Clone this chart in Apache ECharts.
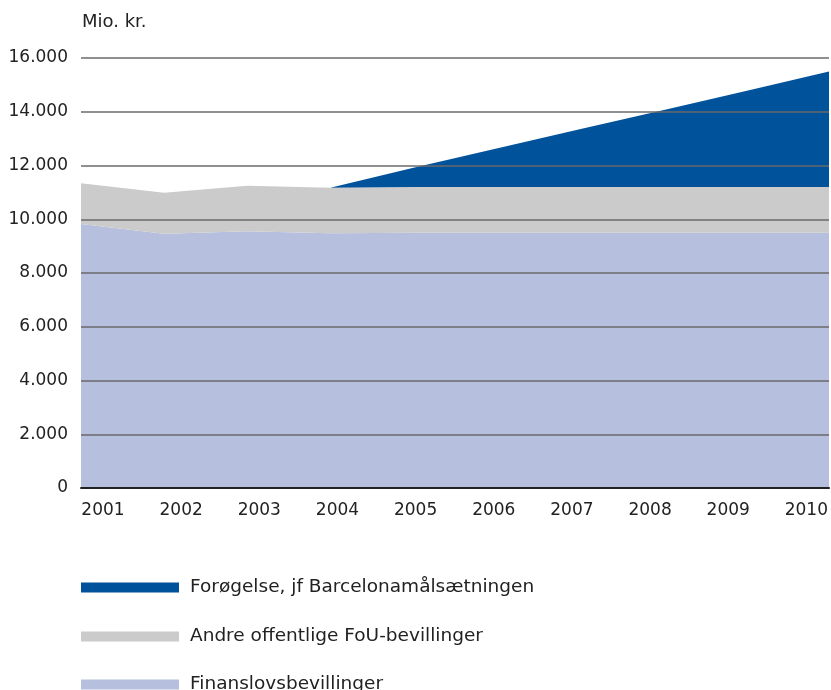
<!DOCTYPE html>
<html><head><meta charset="utf-8">
<script src="https://cdn.jsdelivr.net/npm/echarts@6/dist/echarts.min.js"></script>
<style>html,body{margin:0;padding:0;background:#fff}#c{width:831px;height:690px}</style>
</head><body><div id="c"></div>
<script>
const years = ['2001','2002','2003','2004','2005','2006','2007','2008','2009','2010'];
const finanslov = [9820, 9460, 9550, 9475, 9500, 9500, 9500, 9500, 9500, 9500];
const andre = [1515, 1525, 1700, 1700, 1700, 1700, 1700, 1700, 1700, 1700];
const foroegelse = [0, 0, 0, 0, 715, 1430, 2145, 2860, 3575, 4295];
const yTicks = ['0','2.000','4.000','6.000','8.000','10.000','12.000','14.000','16.000'];
const names = ['Forøgelse, jf Barcelonamålsætningen','Andre offentlige FoU-bevillinger','Finanslovsbevillinger'];
const colors = ['#00529b','#cbcbcb','#b6c0de'];
const FONT = 'DejaVu Sans';

const chart = echarts.init(document.getElementById('c'), null, {renderer:'canvas'});
function areaSeries(name, data, color, z){
  return {name, type:'line', data, stack:'s', xAxisIndex:0, yAxisIndex:0,
    symbol:'none', showSymbol:false, lineStyle:{width:0, color}, itemStyle:{color},
    areaStyle:{color, opacity:1}, z, silent:true, animation:false};
}
function legend(i, top){
  return {data:[names[i]], left:81, top, icon:'rect', itemWidth:98, itemHeight:10, itemGap:0,
    textStyle:{fontFamily:FONT, fontSize:18.5, color:'#222', padding:[0,0,0,6]}, selectedMode:false, padding:0};
}
chart.setOption({
  animation:false,
  title:{text:'Mio. kr.', left:77, top:8, textStyle:{fontFamily:FONT, fontSize:18, fontWeight:'normal', color:'#222'}},
  legend:[legend(0, 578), legend(1, 627), legend(2, 675)],
  grid:[
    {left:81, right:2, top:58, bottom:202},
    {left:103, right:24, top:58, bottom:202}
  ],
  xAxis:[
    {type:'category', gridIndex:0, data:years, boundaryGap:false,
     axisLine:{show:true, lineStyle:{color:'#222', width:2}}, axisTick:{show:false}, axisLabel:{show:false}, z:11},
    {type:'category', gridIndex:1, data:years, boundaryGap:false,
     axisLine:{show:false}, axisTick:{show:false},
     axisLabel:{fontFamily:FONT, fontSize:17, color:'#222', margin:14}}
  ],
  yAxis:[
    {type:'value', gridIndex:0, min:0, max:16000, interval:2000, z:10,
     axisLine:{show:false}, axisTick:{show:false},
     splitLine:{show:true, lineStyle:{color:'#6a6a6a', width:1.5}},
     axisLabel:{fontFamily:FONT, fontSize:17, color:'#222', margin:13,
       formatter:(v)=>yTicks[Math.round(v/2000)]}},
    {type:'value', gridIndex:1, min:0, max:16000, show:false}
  ],
  series:[
    areaSeries(names[2], finanslov, colors[2], 1),
    areaSeries(names[1], andre, colors[1], 1),
    areaSeries(names[0], foroegelse, colors[0], 1)
  ]
});
</script></body></html>
